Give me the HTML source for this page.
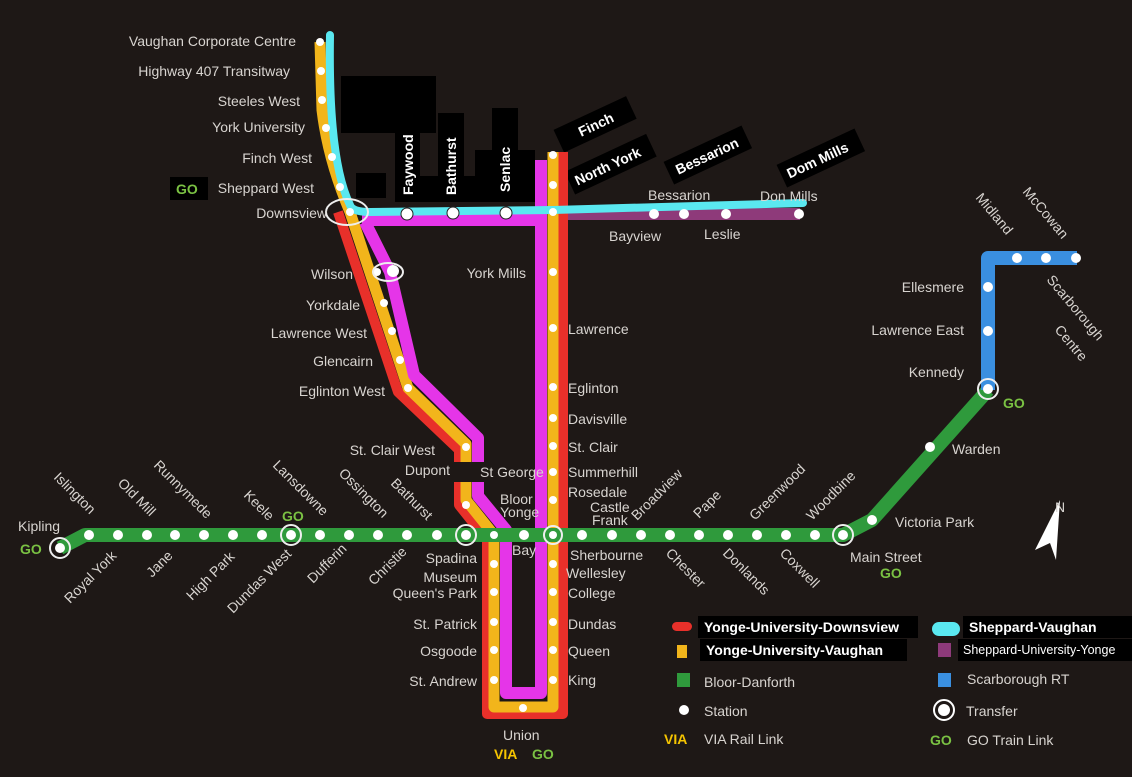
<!DOCTYPE html>
<html><head><meta charset="utf-8"><style>
html,body{margin:0;padding:0;background:#1e1816;}
svg{display:block}
text{font-family:"Liberation Sans",sans-serif;font-size:14px;fill:#d8d4d0;}
.b{font-weight:bold;fill:#fff;}
.go{fill:#7ac143;font-weight:bold;font-size:14px}
.via{fill:#f5c400;font-weight:bold;font-size:14px}
</style></head><body>
<svg width="1132" height="777" viewBox="0 0 1132 777" xmlns="http://www.w3.org/2000/svg">
<rect width="1132" height="777" fill="#1e1816"/>
<g fill="#000">
<rect x="341" y="76" width="95" height="57"/>
<rect x="395" y="133" width="25" height="68"/>
<rect x="438" y="113" width="26" height="88"/>
<rect x="492" y="108" width="26" height="93"/>
<rect x="475" y="150" width="60" height="30"/>
<rect x="395" y="176" width="150" height="26"/>
<rect x="356" y="173" width="30" height="25"/>
</g>
<g class="b" font-size="14">
<text x="413" y="195" transform="rotate(-90 413 195)" class="b">Faywood</text>
<text x="456" y="195" transform="rotate(-90 456 195)" class="b">Bathurst</text>
<text x="510" y="192" transform="rotate(-90 510 192)" class="b">Senlac</text>
</g>
<g transform="translate(562,148) rotate(-25)"><rect x="0" y="-20" width="80" height="25" fill="#000"/><text x="22" y="-2" class="b">Finch</text></g>
<g transform="translate(573,190) rotate(-25)"><rect x="0" y="-20" width="90" height="25" fill="#000"/><text x="6" y="-2" class="b">North York</text></g>
<g transform="translate(672,180) rotate(-25)"><rect x="0" y="-20" width="86" height="25" fill="#000"/><text x="8" y="-2" class="b">Bessarion</text></g>
<g transform="translate(785,183) rotate(-25)"><rect x="0" y="-20" width="86" height="25" fill="#000"/><text x="6" y="-2" class="b">Dom Mills</text></g>

<g fill="none" stroke-linejoin="round">
<path d="M555 214 L800 214" stroke="#8e3a7a" stroke-width="12"/>
<path d="M338 212 L398 392 L459 450 L459 505 L487 540 L487 714 L563 714 L563 152" stroke="#e8302a" stroke-width="10"/>
<path d="M320 42 L322 110 Q328 160 350 212 L408 388 L466 444 L466 500 L494 535 L494 707 L553 707 L553 152" stroke="#f2b51b" stroke-width="11"/>
<path d="M362 220 L545 220 M365 222 L390 272 L414 375 L478 438 L478 496 L506 530 L506 693 L541 693 L541 160" stroke="#e535e8" stroke-width="12"/>
<path d="M330 35 Q328 160 350 205 Q352 212 370 212 L553 210 L803 203" stroke="#5ae8f0" stroke-width="8" stroke-linecap="round"/>
<path d="M60 548 L85 535 L843 535 L872 520 L988 390" stroke="#2f9a3c" stroke-width="14"/>
<path d="M988 390 L988 258 L1077 258" stroke="#3a8fe0" stroke-width="14"/>
</g>

<g fill="#fff">
<circle cx="89" cy="535" r="5"/><circle cx="118" cy="535" r="5"/><circle cx="147" cy="535" r="5"/><circle cx="175" cy="535" r="5"/><circle cx="204" cy="535" r="5"/><circle cx="233" cy="535" r="5"/><circle cx="262" cy="535" r="5"/><circle cx="291" cy="535" r="5"/><circle cx="320" cy="535" r="5"/><circle cx="349" cy="535" r="5"/><circle cx="378" cy="535" r="5"/><circle cx="407" cy="535" r="5"/><circle cx="437" cy="535" r="5"/><circle cx="466" cy="535" r="5"/><circle cx="524" cy="535" r="5"/><circle cx="582" cy="535" r="5"/><circle cx="612" cy="535" r="5"/><circle cx="641" cy="535" r="5"/><circle cx="670" cy="535" r="5"/><circle cx="699" cy="535" r="5"/><circle cx="728" cy="535" r="5"/><circle cx="757" cy="535" r="5"/><circle cx="786" cy="535" r="5"/><circle cx="815" cy="535" r="5"/><circle cx="843" cy="535" r="5"/><circle cx="872" cy="520" r="5"/><circle cx="930" cy="447" r="5"/><circle cx="60" cy="548" r="5"/>
<circle cx="988" cy="389" r="5"/><circle cx="988" cy="331" r="5"/><circle cx="988" cy="287" r="5"/><circle cx="1017" cy="258" r="5"/><circle cx="1046" cy="258" r="5"/><circle cx="1076" cy="258" r="5"/>
<circle cx="553" cy="155" r="4"/><circle cx="553" cy="185" r="4"/><circle cx="553" cy="212" r="4"/><circle cx="553" cy="272" r="4"/><circle cx="553" cy="328" r="4"/><circle cx="553" cy="387" r="4"/><circle cx="553" cy="418" r="4"/><circle cx="553" cy="446" r="4"/><circle cx="553" cy="472" r="4"/><circle cx="553" cy="500" r="4"/><circle cx="553" cy="535" r="4"/><circle cx="553" cy="564" r="4"/><circle cx="553" cy="592" r="4"/><circle cx="553" cy="622" r="4"/><circle cx="553" cy="650" r="4"/><circle cx="553" cy="680" r="4"/>
<circle cx="494" cy="535" r="4"/><circle cx="494" cy="564" r="4"/><circle cx="494" cy="592" r="4"/><circle cx="494" cy="622" r="4"/><circle cx="494" cy="650" r="4"/><circle cx="494" cy="680" r="4"/><circle cx="523" cy="708" r="4"/>
<circle cx="466" cy="447" r="4"/><circle cx="466" cy="476" r="4"/><circle cx="466" cy="505" r="4"/>
<circle cx="408" cy="388" r="4"/><circle cx="400" cy="360" r="4"/><circle cx="392" cy="331" r="4"/><circle cx="384" cy="303" r="4"/><circle cx="377" cy="272" r="4"/><circle cx="350" cy="212" r="4"/>
<circle cx="320" cy="42" r="4"/><circle cx="321" cy="71" r="4"/><circle cx="322" cy="100" r="4"/><circle cx="326" cy="128" r="4"/><circle cx="332" cy="157" r="4"/><circle cx="340" cy="187" r="4"/>
<circle cx="407" cy="214" r="6" stroke="#222" stroke-width="1"/><circle cx="453" cy="213" r="6" stroke="#222" stroke-width="1"/><circle cx="506" cy="213" r="6" stroke="#222" stroke-width="1"/>
<circle cx="393" cy="271" r="6"/>
<circle cx="654" cy="214" r="5"/><circle cx="684" cy="214" r="5"/><circle cx="726" cy="214" r="5"/><circle cx="799" cy="214" r="5"/>
</g>
<g fill="none" stroke="#eee" stroke-width="2">
<ellipse cx="347" cy="212" rx="21" ry="13"/><ellipse cx="388" cy="272" rx="15" ry="9"/>
<circle cx="60" cy="548" r="10"/><circle cx="291" cy="535" r="10"/><circle cx="466" cy="535" r="10"/><circle cx="553" cy="535" r="9"/><circle cx="843" cy="535" r="10"/><circle cx="988" cy="389" r="10"/>
</g>

<g text-anchor="end">
<text x="296" y="46">Vaughan Corporate Centre</text>
<text x="290" y="76">Highway 407 Transitway</text>
<text x="300" y="106">Steeles West</text>
<text x="305" y="132">York University</text>
<text x="312" y="163">Finch West</text>
<text x="314" y="193">Sheppard West</text>
<text x="327" y="218">Downsview</text>
<text x="353" y="279">Wilson</text>
<text x="360" y="310">Yorkdale</text>
<text x="367" y="338">Lawrence West</text>
<text x="373" y="366">Glencairn</text>
<text x="385" y="396">Eglinton West</text>
<text x="435" y="455">St. Clair West</text>
<text x="450" y="475">Dupont</text>
<text x="477" y="563">Spadina</text>
<text x="477" y="582">Museum</text>
<text x="477" y="598">Queen's Park</text>
<text x="477" y="629">St. Patrick</text>
<text x="477" y="656">Osgoode</text>
<text x="477" y="686">St. Andrew</text>
<text x="526" y="278">York Mills</text>
</g>
<rect x="170" y="177" width="38" height="23" fill="#000"/><text x="176" y="194" class="go">GO</text>
<rect x="452" y="462" width="80" height="20" fill="#1e1816"/>
<text x="480" y="477">St George</text>
<text x="500" y="504">Bloor</text><text x="500" y="517">Yonge</text>
<text x="512" y="555">Bay</text>
<g>
<text x="568" y="334">Lawrence</text>
<text x="568" y="393">Eglinton</text>
<text x="568" y="424">Davisville</text>
<text x="568" y="452">St. Clair</text>
<text x="568" y="477">Summerhill</text>
<text x="568" y="497" font-size="13">Rosedale</text>
<text x="590" y="512" font-size="13">Castle</text><text x="592" y="525" font-size="13">Frank</text>
<text x="570" y="560">Sherbourne</text>
<text x="566" y="578">Wellesley</text>
<text x="568" y="598">College</text>
<text x="568" y="629">Dundas</text>
<text x="568" y="656">Queen</text>
<text x="568" y="685">King</text>
<text x="503" y="740">Union</text>
<text x="494" y="759" class="via">VIA</text><text x="532" y="759" class="go">GO</text>
<text x="648" y="200">Bessarion</text><text x="760" y="201">Don Mills</text>
<text x="609" y="241">Bayview</text><text x="704" y="239">Leslie</text>
</g>
<g text-anchor="end">
<text x="964" y="292">Ellesmere</text>
<text x="964" y="335">Lawrence East</text>
<text x="964" y="377">Kennedy</text>
</g>
<text x="1003" y="408" class="go">GO</text>
<text x="952" y="454">Warden</text>
<text x="895" y="527">Victoria Park</text>
<text x="850" y="562">Main Street</text>
<text x="880" y="578" class="go">GO</text>
<text x="975" y="198" transform="rotate(50 975 198)">Midland</text>
<text x="1022" y="192" transform="rotate(50 1022 192)">McCowan</text>
<text x="1046" y="280" transform="rotate(50 1046 280)">Scarborough</text>
<text x="1054" y="330" transform="rotate(50 1054 330)">Centre</text>
<path d="M1060 500 L1035 550 L1050 543 L1056 560 Z" fill="#fff"/>
<text x="1055" y="512" font-size="12" fill="#fff">N</text>
<text x="18" y="531">Kipling</text>
<text x="20" y="554" class="go">GO</text>
<text x="282" y="521" class="go">GO</text>
<g>
<text x="53" y="478" transform="rotate(45 53 478)">Islington</text>
<text x="117" y="484" transform="rotate(45 117 484)">Old Mill</text>
<text x="153" y="466" transform="rotate(45 153 466)">Runnymede</text>
<text x="243" y="496" transform="rotate(45 243 496)">Keele</text>
<text x="272" y="466" transform="rotate(45 272 466)">Lansdowne</text>
<text x="338" y="474" transform="rotate(45 338 474)">Ossington</text>
<text x="390" y="484" transform="rotate(45 390 484)">Bathurst</text>
<text x="70" y="604" transform="rotate(-45 70 604)">Royal York</text>
<text x="152" y="578" transform="rotate(-45 152 578)">Jane</text>
<text x="192" y="601" transform="rotate(-45 192 601)">High Park</text>
<text x="233" y="614" transform="rotate(-45 233 614)">Dundas West</text>
<text x="313" y="584" transform="rotate(-45 313 584)">Dufferin</text>
<text x="374" y="586" transform="rotate(-45 374 586)">Christie</text>
<text x="637" y="521" transform="rotate(-45 637 521)">Broadview</text>
<text x="699" y="519" transform="rotate(-45 699 519)">Pape</text>
<text x="755" y="521" transform="rotate(-45 755 521)">Greenwood</text>
<text x="812" y="521" transform="rotate(-45 812 521)">Woodbine</text>
<text x="665" y="554" transform="rotate(45 665 554)">Chester</text>
<text x="722" y="554" transform="rotate(45 722 554)">Donlands</text>
<text x="779" y="554" transform="rotate(45 779 554)">Coxwell</text>
</g>
<rect x="672" y="622" width="20" height="9" rx="4.5" fill="#e8302a"/>
<rect x="698" y="616" width="220" height="22" fill="#000"/><text x="704" y="632" class="b">Yonge-University-Downsview</text>
<rect x="677" y="645" width="10" height="13" fill="#f2b51b"/>
<rect x="700" y="639" width="207" height="22" fill="#000"/><text x="706" y="655" class="b">Yonge-University-Vaughan</text>
<rect x="677" y="673" width="13" height="14" fill="#2f9a3c"/><text x="704" y="687">Bloor-Danforth</text>
<circle cx="684" cy="710" r="5" fill="#fff"/><text x="704" y="716" font-size="13">Station</text>
<text x="664" y="744" class="via">VIA</text><text x="704" y="744">VIA Rail Link</text>
<rect x="932" y="622" width="28" height="14" rx="7" fill="#5ae8f0"/>
<rect x="963" y="616" width="169" height="22" fill="#000"/><text x="969" y="632" class="b">Sheppard-Vaughan</text>
<rect x="938" y="643" width="13" height="14" fill="#8e3a7a"/>
<rect x="958" y="639" width="174" height="22" fill="#000"/><text x="963" y="654" style="font-size:12.5px;fill:#fff">Sheppard-University-Yonge</text>
<rect x="938" y="673" width="13" height="14" fill="#3a8fe0"/><text x="967" y="684">Scarborough RT</text>
<circle cx="944" cy="710" r="10" fill="none" stroke="#fff" stroke-width="2"/><circle cx="944" cy="710" r="6" fill="#fff"/><text x="966" y="716" font-size="13">Transfer</text>
<text x="930" y="745" class="go">GO</text><text x="967" y="745">GO Train Link</text>
</svg>
</body></html>
